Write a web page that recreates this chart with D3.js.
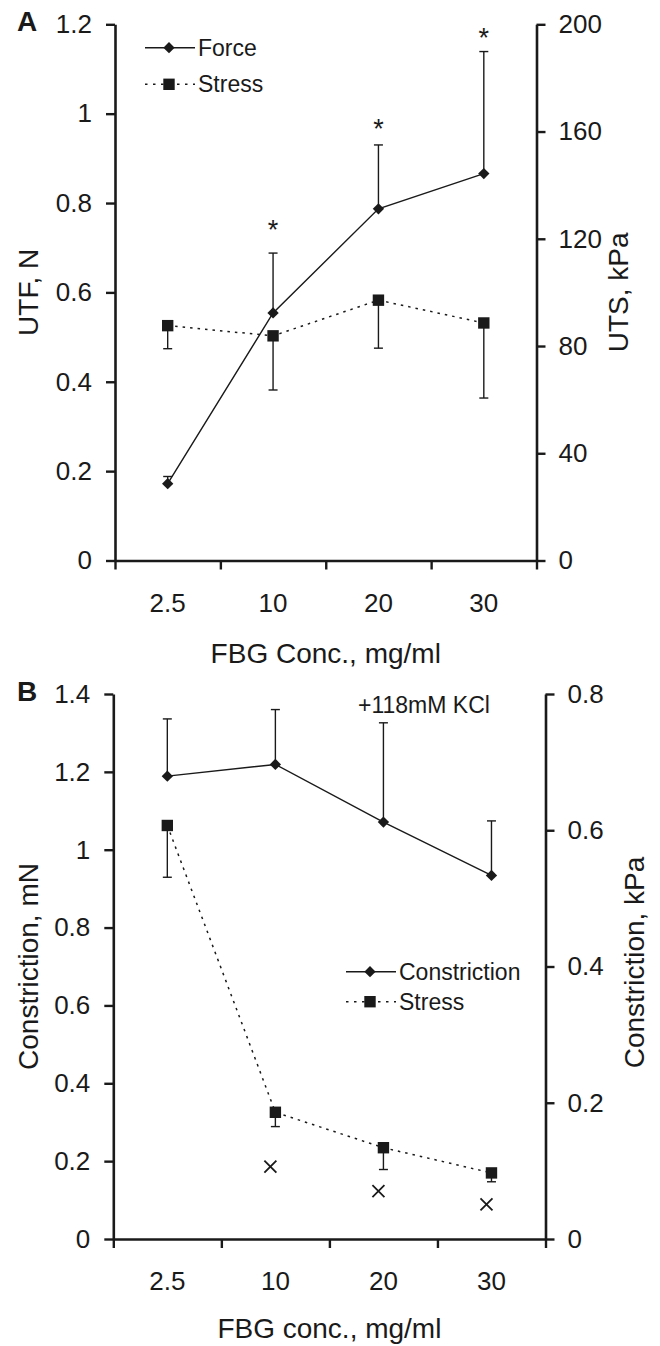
<!DOCTYPE html>
<html><head><meta charset="utf-8">
<script src="https://cdn.jsdelivr.net/npm/d3@7"></script>
<style>
body{margin:0;background:#fff}
text{font-family:"Liberation Sans",Arial,Helvetica,sans-serif;fill:#1a1a1a}
</style>
</head><body>
<svg id="c" width="660" height="1346"></svg>
<script>
// ---------- DATA ----------
const categories = ["2.5", "10", "20", "30"];

// Panel A
const forceA = [0.172, 0.554, 0.787, 0.866];       // UTF, N (left axis)
const forceErrA = [0.016, 0.134, 0.143, 0.273];    // upward error
const stressA = [87.6, 83.8, 97.1, 88.6];          // UTS, kPa (right axis)
const stressErrA = [8.6, 20.2, 17.9, 28.0];        // downward error
const sigA = [null, 0.755, 0.98, 1.183];           // asterisk positions (left axis units)
const ticksLeftA = [0, 0.2, 0.4, 0.6, 0.8, 1, 1.2];
const ticksRightA = [0, 40, 80, 120, 160, 200];

// Panel B
const constrB = [1.189, 1.219, 1.071, 0.934];      // Constriction, mN (left axis)
const constrErrB = [0.147, 0.141, 0.255, 0.140];   // upward error
const stressB = [0.607, 0.186, 0.134, 0.097];      // Constriction, kPa (right axis)
const stressErrB = [0.076, 0.021, 0.032, 0.013];   // downward error
const crossB = [null, 0.186, 0.123, 0.089];        // x markers (left axis units)
const ticksLeftB = [0, 0.2, 0.4, 0.6, 0.8, 1, 1.2, 1.4];
const ticksRightB = [0, 0.2, 0.4, 0.6, 0.8];

// ---------- DRAWING ----------
const svg = d3.select("#c");
const INK = "#1a1a1a";
const fmt = d => String(+d.toFixed(2));

function drawPanel(cfg) {
  const g = svg.append("g");
  const x = d3.scaleBand().domain(categories).range([cfg.left, cfg.right]).padding(0);
  const xc = c => x(c) + x.bandwidth() / 2;
  const yL = d3.scaleLinear().domain([0, cfg.maxL]).range([cfg.bottom, cfg.top]);
  const yR = d3.scaleLinear().domain([0, cfg.maxR]).range([cfg.bottom, cfg.top]);

  // axes
  const axL = g.append("g").attr("transform", `translate(${cfg.left},0)`)
    .call(d3.axisLeft(yL).tickValues(cfg.ticksL).tickFormat(fmt).tickSize(9).tickSizeOuter(0).tickPadding(14));
  const axR = g.append("g").attr("transform", `translate(${cfg.right},0)`)
    .call(d3.axisRight(yR).tickValues(cfg.ticksR).tickFormat(fmt).tickSize(9).tickSizeOuter(0).tickPadding(13));
  // x axis: ticks at band edges
  const edges = d3.scaleLinear().domain([0, categories.length]).range([cfg.left, cfg.right]);
  const axX = g.append("g").attr("transform", `translate(0,${cfg.bottom})`)
    .call(d3.axisBottom(edges).tickValues(d3.range(categories.length + 1)).tickFormat("").tickSize(9).tickSizeOuter(0));
  const axXL = g.append("g").attr("transform", `translate(0,${cfg.bottom})`)
    .call(d3.axisBottom(x).tickSize(0).tickPadding(0));
  axXL.select(".domain").remove();
  axXL.selectAll("text").attr("dy", null).attr("y", 51);

  [axL, axR, axX].forEach(a => {
    a.select(".domain").attr("stroke", INK).attr("stroke-width", 2.6);
    a.selectAll(".tick line").attr("stroke", INK).attr("stroke-width", 2.4);
  });
  [axL, axR, axXL].forEach(a => a.selectAll("text").attr("font-size", 26).attr("fill", INK)
    .style("font-family", '"Liberation Sans",Arial,Helvetica,sans-serif'));

  // titles
  g.append("text").attr("x", (cfg.left + cfg.right) / 2).attr("y", cfg.bottom + cfg.xTitleDy)
    .attr("text-anchor", "middle").attr("font-size", 28).text(cfg.xTitle);
  g.append("text").attr("transform", `translate(${cfg.yTitleLX},${(cfg.top + cfg.bottom) / 2}) rotate(-90)`)
    .attr("text-anchor", "middle").attr("dy", "0.35em").attr("font-size", 28).text(cfg.yTitleL);
  g.append("text").attr("transform", `translate(${cfg.yTitleRX},${(cfg.top + cfg.bottom) / 2 + cfg.yTitleRShift}) rotate(-90)`)
    .attr("text-anchor", "middle").attr("dy", "0.35em").attr("font-size", 28).text(cfg.yTitleR);
  g.append("text").attr("x", 17).attr("y", cfg.top + 7).attr("font-size", 28).attr("font-weight", "bold").text(cfg.letter);

  const dataL = categories.map((c, i) => ({ c, v: cfg.seriesL[i], e: cfg.errL[i] }));
  const dataR = categories.map((c, i) => ({ c, v: cfg.seriesR[i], e: cfg.errR[i] }));

  // lines
  g.append("path").datum(dataR).attr("fill", "none").attr("stroke", INK).attr("stroke-width", 1.5)
    .attr("stroke-dasharray", "2.5,5")
    .attr("d", d3.line().x(d => xc(d.c)).y(d => yR(d.v)));
  g.append("path").datum(dataL).attr("fill", "none").attr("stroke", INK).attr("stroke-width", 1.4)
    .attr("d", d3.line().x(d => xc(d.c)).y(d => yL(d.v)));

  // error bars
  const eb = (data, ys, dir) => {
    const grp = g.append("g").attr("stroke", INK).attr("stroke-width", 1.4);
    data.forEach(d => {
      const y0 = ys(d.v), y1 = ys(d.v + dir * d.e), cx = xc(d.c);
      grp.append("line").attr("x1", cx).attr("x2", cx).attr("y1", y0).attr("y2", y1);
      grp.append("line").attr("x1", cx - 4.5).attr("x2", cx + 4.5).attr("y1", y1).attr("y2", y1);
    });
  };
  eb(dataL, yL, 1);
  eb(dataR, yR, -1);

  // markers
  const diamond = d3.symbol().type(d3.symbolSquare).size(64);
  const square = d3.symbol().type(d3.symbolSquare).size(130);
  g.selectAll(".sq").data(dataR).join("path").attr("fill", INK)
    .attr("transform", d => `translate(${xc(d.c)},${yR(d.v)})`).attr("d", square);
  g.selectAll(".dm").data(dataL).join("path").attr("fill", INK)
    .attr("transform", d => `translate(${xc(d.c)},${yL(d.v)}) rotate(45)`).attr("d", diamond);

  // legend
  cfg.legend.forEach((it, i) => {
    const ly = cfg.legY[i];
    const lg = g.append("g");
    lg.append("line").attr("x1", cfg.legX).attr("x2", cfg.legX + 50).attr("y1", ly).attr("y2", ly)
      .attr("stroke", INK).attr("stroke-width", it.dash ? 1.5 : 1.4).attr("stroke-dasharray", it.dash ? "2.5,5.5" : null);
    lg.append("path").attr("fill", INK)
      .attr("transform", `translate(${cfg.legX + 24},${ly})${it.dash ? "" : " rotate(45)"}`)
      .attr("d", it.dash ? square : diamond);
    lg.append("text").attr("x", cfg.legX + 53).attr("y", ly).attr("dy", "0.35em").attr("font-size", 23).text(it.label);
  });

  return { g, x, xc, yL, yR };
}

// Panel A
const A = drawPanel({
  letter: "A", left: 115, right: 536.5, top: 24.3, bottom: 560.5,
  maxL: 1.2, maxR: 200, ticksL: ticksLeftA, ticksR: ticksRightA,
  seriesL: forceA, errL: forceErrA, seriesR: stressA, errR: stressErrA,
  xTitle: "FBG Conc., mg/ml", xTitleDy: 102,
  yTitleL: "UTF, N", yTitleLX: 28, yTitleR: "UTS, kPa", yTitleRX: 618, yTitleRShift: 0,
  legX: 145, legY: [47.7, 84.3],
  legend: [{ label: "Force", dash: false }, { label: "Stress", dash: true }]
});
categories.forEach((c, i) => {
  if (sigA[i] == null) return;
  A.g.append("text").attr("x", A.xc(c)).attr("y", A.yL(sigA[i]) + 15.5)
    .attr("text-anchor", "middle").attr("font-size", 27).text("*");
});

// Panel B
const B = drawPanel({
  letter: "B", left: 113.3, right: 545.5, top: 694, bottom: 1239,
  maxL: 1.4, maxR: 0.8, ticksL: ticksLeftB, ticksR: ticksRightB,
  seriesL: constrB, errL: constrErrB, seriesR: stressB, errR: stressErrB,
  xTitle: "FBG conc., mg/ml", xTitleDy: 99,
  yTitleL: "Constriction, mN", yTitleLX: 28, yTitleR: "Constriction, kPa", yTitleRX: 634, yTitleRShift: -4,
  legX: 346, legY: [971.7, 1001.7],
  legend: [{ label: "Constriction", dash: false }, { label: "Stress", dash: true }]
});
B.g.append("text").attr("x", 358).attr("y", 705).attr("dy", "0.35em").attr("font-size", 23).text("+118mM KCl");
const cross = d3.symbol().type(d3.symbolX).size(70);
categories.forEach((c, i) => {
  if (crossB[i] == null) return;
  B.g.append("path").attr("fill", "none").attr("stroke", INK).attr("stroke-width", 1.8)
    .attr("transform", `translate(${B.xc(c) - 5},${B.yL(crossB[i])})`)
    .attr("d", "M-6,-6L6,6M-6,6L6,-6");
});
</script>
</body></html>
